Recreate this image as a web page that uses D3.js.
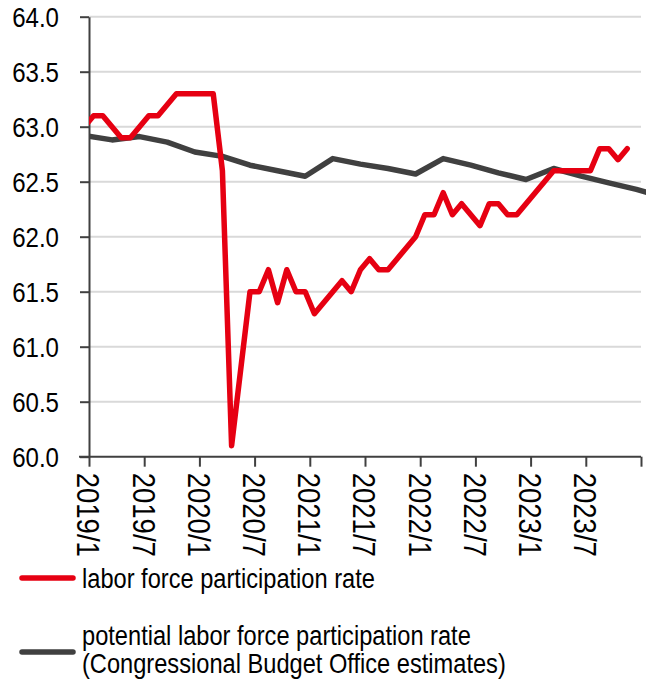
<!DOCTYPE html>
<html>
<head>
<meta charset="utf-8">
<script src="https://cdn.jsdelivr.net/npm/d3@7"></script>
<style>
  html, body { margin: 0; padding: 0; background: #fff; }
  svg { display: block; }
</style>
</head>
<body>
<div id="chart"></div>
<script>
// labor force participation rate, monthly, first value = 2018/12
var lfprStart = "2018/12";
var lfprValues = [63.0,
    63.1, 63.1, 63.0, 62.9, 62.9, 63.0, 63.1, 63.1, 63.2, 63.3, 63.3, 63.3,
    63.3, 63.3, 62.6, 60.1, 60.8, 61.5, 61.5, 61.7, 61.4, 61.7, 61.5, 61.5,
    61.3, 61.4, 61.5, 61.6, 61.5, 61.7, 61.8, 61.7, 61.7, 61.8, 61.9, 62.0,
    62.2, 62.2, 62.4, 62.2, 62.3, 62.2, 62.1, 62.3, 62.3, 62.2, 62.2, 62.3,
    62.4, 62.5, 62.6, 62.6, 62.6, 62.6, 62.6, 62.8, 62.8, 62.7, 62.8];

// potential rate (CBO), quarterly
var cboMonths = ["2018/12", "2019/3", "2019/6", "2019/9", "2019/12",
    "2020/3", "2020/6", "2020/9", "2020/12", "2021/3", "2021/6", "2021/9", "2021/12",
    "2022/3", "2022/6", "2022/9", "2022/12", "2023/3", "2023/6", "2023/9", "2023/12", "2024/3"];
var cboValues = [62.92, 62.88, 62.91, 62.86, 62.77,
    62.73, 62.65, 62.60, 62.55, 62.71, 62.66, 62.62, 62.57,
    62.71, 62.65, 62.58, 62.52, 62.62, 62.55, 62.49, 62.43, 62.36];

var xTickLabels = ["2019/1", "2019/7", "2020/1", "2020/7", "2021/1", "2021/7",
    "2022/1", "2022/7", "2023/1", "2023/7", ""];
var yTicks = [60.0, 60.5, 61.0, 61.5, 62.0, 62.5, 63.0, 63.5, 64.0];

var legendLabels = [["labor force participation rate"],
    ["potential labor force participation rate", "(Congressional Budget Office estimates)"]];
var legendColors = ["#e60012", "#404040"];

function init() {
    var w = 646;
    var h = 681;
    var plotLeft = 89, plotRight = 641, plotTop = 16.7, plotBottom = 456.7;
    var squeeze = 0.86; // narrow font look
    var font = "'Liberation Sans', Arial, sans-serif";

    function monthIndex(s) {
        var p = s.split("/");
        return (+p[0] - 2019) * 12 + (+p[1] - 1);
    }

    var xScale = d3.scaleLinear().domain([0, 60]).range([plotLeft, plotRight]);
    var yScale = d3.scaleLinear().domain([60, 64]).range([plotBottom, plotTop]);

    var svg = d3.select("#chart").append("svg")
        .attr("width", w)
        .attr("height", h);

    svg.append("defs").append("clipPath").attr("id", "plotclip")
        .append("rect").attr("x", plotLeft).attr("y", 0).attr("width", w - plotLeft).attr("height", h);

    // gridlines
    svg.append("g").selectAll("line")
        .data(yTicks.filter(function(d) { return d > 60; }))
        .enter().append("line")
        .attr("x1", plotLeft).attr("x2", plotRight)
        .attr("y1", function(d) { return yScale(d); })
        .attr("y2", function(d) { return yScale(d); })
        .attr("stroke", "#d9d9d9")
        .attr("stroke-width", 2);

    // y axis
    var yAxis = svg.append("g")
        .attr("transform", "translate(" + plotLeft + ",0)")
        .call(d3.axisLeft(yScale).tickValues(yTicks).tickSize(9).tickSizeOuter(0).tickFormat(""));
    yAxis.select(".domain").attr("stroke", "#404040").attr("stroke-width", 2);
    yAxis.selectAll(".tick line").attr("stroke", "#404040").attr("stroke-width", 2);

    yAxis.selectAll(".ylab")
        .data(yTicks)
        .enter().append("text")
        .attr("transform", function(d) { return "translate(-30," + yScale(d) + ") scale(" + squeeze + ",1)"; })
        .attr("text-anchor", "end")
        .attr("dy", "0.36em")
        .attr("font-family", font)
        .attr("font-size", "28px")
        .attr("fill", "#000")
        .text(function(d) { return d3.format(".1f")(d); });

    // x axis
    var xAxis = svg.append("g")
        .attr("transform", "translate(0," + plotBottom + ")")
        .call(d3.axisBottom(xScale).tickValues(d3.range(0, 61, 6)).tickSize(10).tickSizeOuter(0).tickFormat(""));
    xAxis.select(".domain").attr("stroke", "#404040").attr("stroke-width", 2)
        .attr("d", "M" + (plotLeft - 10) + ",0H" + plotRight);
    xAxis.selectAll(".tick line").attr("stroke", "#404040").attr("stroke-width", 2);

    xAxis.selectAll(".xlab")
        .data(xTickLabels)
        .enter().append("text")
        .attr("transform", function(d, i) { return "translate(" + xScale(i * 6) + ",16) rotate(90) scale(" + squeeze + ",1)"; })
        .attr("text-anchor", "start")
        .attr("dy", "0.36em")
        .attr("font-family", font)
        .attr("font-size", "32px")
        .attr("fill", "#000")
        .text(function(d) { return d; });

    // series
    var plot = svg.append("g").attr("clip-path", "url(#plotclip)");

    var s0 = monthIndex(lfprStart);
    var lfprData = lfprValues.map(function(v, i) { return {m: s0 + i, v: v}; });
    var cboData = cboValues.map(function(v, i) { return {m: monthIndex(cboMonths[i]), v: v}; });

    // points sit in the middle of each month
    var line = d3.line()
        .x(function(d) { return xScale(d.m + 0.5); })
        .y(function(d) { return yScale(d.v); });

    plot.append("path")
        .datum(cboData)
        .attr("d", line)
        .attr("fill", "none")
        .attr("stroke", "#404040")
        .attr("stroke-width", 5.5)
        .attr("stroke-linejoin", "round");

    plot.append("path")
        .datum(lfprData)
        .attr("d", line)
        .attr("fill", "none")
        .attr("stroke", "#e60012")
        .attr("stroke-width", 5.5)
        .attr("stroke-linejoin", "round")
        .attr("stroke-linecap", "round");

    // legend
    var legendY = [578, 652];
    var lg = svg.append("g");
    legendLabels.forEach(function(lines, i) {
        var y = legendY[i];
        lg.append("line")
            .attr("x1", 22).attr("x2", 73)
            .attr("y1", y).attr("y2", y)
            .attr("stroke", legendColors[i])
            .attr("stroke-width", 5.5)
            .attr("stroke-linecap", "round");
        var baseY = lines.length === 1 ? y + 10 : y - 7;
        lines.forEach(function(t, j) {
            lg.append("text")
                .attr("transform", "translate(82," + (baseY + j * 28) + ") scale(" + squeeze + ",1)")
                .attr("font-family", font)
                .attr("font-size", "27.5px")
                .attr("fill", "#000")
                .text(t);
        });
    });
}
window.onload = init;
</script>
</body>
</html>
